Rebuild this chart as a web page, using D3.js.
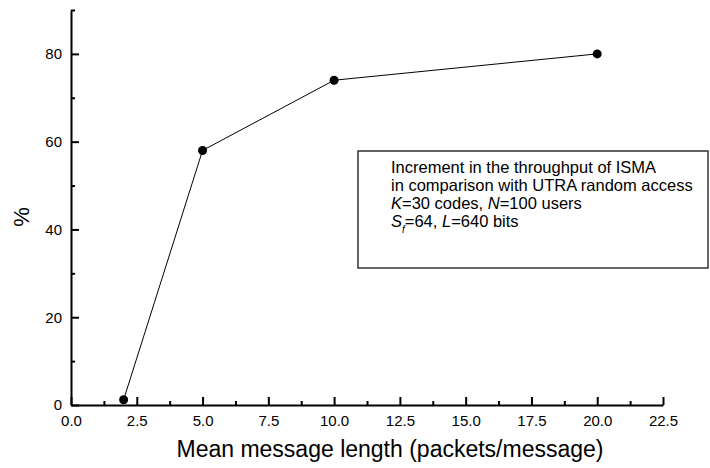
<!DOCTYPE html>
<html>
<head>
<meta charset="utf-8">
<script src="https://cdn.jsdelivr.net/npm/d3@7"></script>
<style>
  body { margin: 0; background: #fff; }
  svg { display: block; font-family: "Liberation Sans", Arial, sans-serif; }
</style>
</head>
<body>
<div id="chart"></div>
<script>
// data
var msgLength = [2, 5, 10, 20];
var increment = [1.2, 58, 74, 80];

var xMajor = [0, 2.5, 5, 7.5, 10, 12.5, 15, 17.5, 20, 22.5];
var xMinor = [1.25, 3.75, 6.25, 8.75, 11.25, 13.75, 16.25, 18.75, 21.25];
var yMajor = [0, 20, 40, 60, 80];
var yMinor = [10, 30, 50, 70, 90];

var noteLines = [
    [{t: 'Increment in the throughput of ISMA'}],
    [{t: 'in comparison with UTRA random access'}],
    [{t: 'K', i: true}, {t: '=30 codes, '}, {t: 'N', i: true}, {t: '=100 users'}],
    [{t: 'S', i: true}, {t: 'f', i: true, sub: true}, {t: '=64, '}, {t: 'L', i: true}, {t: '=640 bits'}]
];

var W = 710, H = 468;
var margin = {top: 10, right: 47, bottom: 63, left: 71},
    width = W - margin.left - margin.right,
    height = H - margin.top - margin.bottom;

var svg = d3.select('#chart')
    .append('svg')
    .attr('width', W)
    .attr('height', H);

var g = svg.append('g')
    .attr('transform', 'translate(' + margin.left + ',' + margin.top + ')');

var x = d3.scaleLinear().domain([0, 22.5]).range([0, width]);
var y = d3.scaleLinear().domain([0, 90]).range([height, 0]);

// minor ticks first
g.append('g')
    .attr('transform', 'translate(0,' + height + ')')
    .call(d3.axisBottom(x).tickValues(xMinor).tickSize(-4).tickFormat(''))
    .call(function(a) { a.select('.domain').remove(); });

g.append('g')
    .call(d3.axisLeft(y).tickValues(yMinor).tickSize(-4).tickFormat(''))
    .call(function(a) { a.select('.domain').remove(); });

// major axes
g.append('g')
    .attr('class', 'axis')
    .attr('transform', 'translate(0,' + height + ')')
    .call(d3.axisBottom(x).tickValues(xMajor).tickSize(-8).tickSizeOuter(0).tickPadding(10)
        .tickFormat(d3.format('.1f')));

g.append('g')
    .attr('class', 'axis')
    .call(d3.axisLeft(y).tickValues(yMajor).tickSize(-8).tickSizeOuter(0).tickPadding(9)
        .tickFormat(d3.format('d')));

g.selectAll('.tick line').attr('stroke', '#000').attr('stroke-width', 2);
g.selectAll('.domain').attr('stroke', '#000').attr('stroke-width', 2);
g.selectAll('.axis text').attr('font-size', 15).attr('fill', '#000')
    .attr('font-family', '"Liberation Sans", Arial, sans-serif');

// axis titles
svg.append('text')
    .attr('x', 390)
    .attr('y', 457)
    .attr('text-anchor', 'middle')
    .attr('font-size', 23)
    .text('Mean message length (packets/message)');

svg.append('text')
    .attr('transform', 'translate(29,217) rotate(-90)')
    .attr('text-anchor', 'middle')
    .attr('font-size', 22)
    .text('%');

// the curve
var pts = msgLength.map(function(d, i) { return [d, increment[i]]; });

g.append('path')
    .datum(pts)
    .attr('fill', 'none')
    .attr('stroke', '#000')
    .attr('stroke-width', 1)
    .attr('d', d3.line().x(function(d) { return x(d[0]); }).y(function(d) { return y(d[1]); }));

g.selectAll('circle.pt')
    .data(pts)
    .enter()
    .append('circle')
    .attr('class', 'pt')
    .attr('cx', function(d) { return x(d[0]); })
    .attr('cy', function(d) { return y(d[1]); })
    .attr('r', 4.5)
    .attr('fill', '#000');

// note box
var box = svg.append('g').attr('transform', 'translate(358,151)');
box.append('rect')
    .attr('width', 350)
    .attr('height', 117)
    .attr('fill', '#fff')
    .attr('stroke', '#333')
    .attr('stroke-width', 1.5);

var txt = box.selectAll('text.note')
    .data(noteLines)
    .enter()
    .append('text')
    .attr('class', 'note')
    .attr('x', 33)
    .attr('y', function(d, i) { return 22 + i * 18; })
    .attr('font-size', 16.5);

txt.each(function(parts) {
    var t = d3.select(this);
    parts.forEach(function(p) {
        var s = t.append('tspan')
            .attr('font-style', p.i ? 'italic' : null)
            .text(p.t);
        if (p.sub) s.attr('baseline-shift', 'sub').attr('font-size', 10);
    });
});
</script>
</body>
</html>
